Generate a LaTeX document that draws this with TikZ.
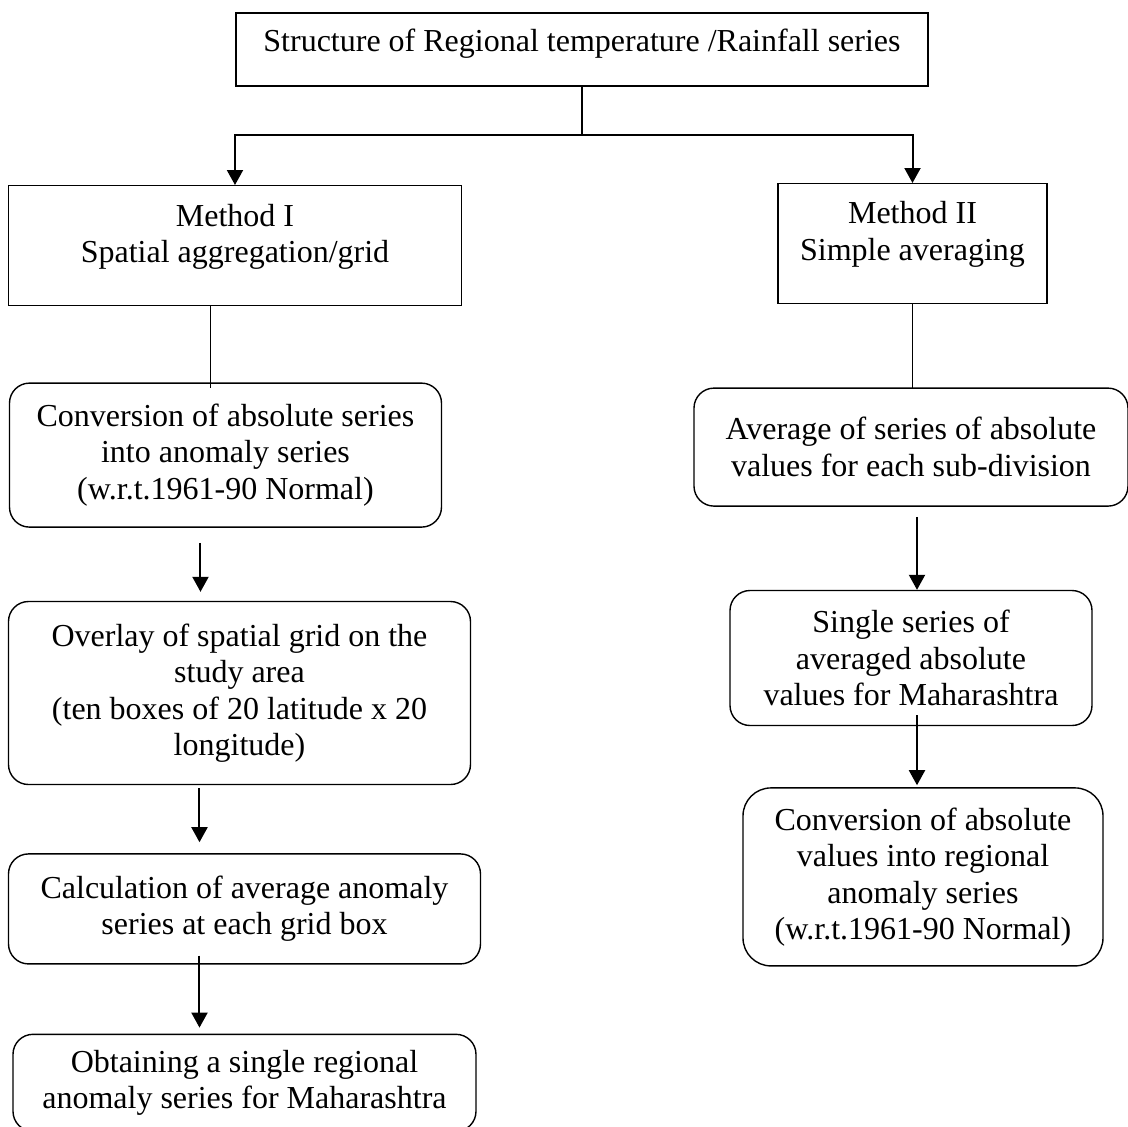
\documentclass[tikz,border=0pt]{standalone}
\usepackage{fontspec}
\setmainfont{Liberation Serif}
\usetikzlibrary{arrows.meta,positioning,calc}

\begin{document}
\begin{tikzpicture}[
  sqbox/.style={draw,line width=0.7pt,align=center,inner sep=0pt,
                font=\fontsize{16}{18.25}\selectfont},
  rbox/.style={sqbox,rounded corners=10pt},
  arr/.style={-{Triangle[width=8pt,length=7.5pt]},line width=1pt},
  link/.style={line width=0.6pt}]
\path[use as bounding box] (-291pt,24.75pt) rectangle (273pt,-538.25pt);
\node[sqbox,line width=1pt,minimum width=346pt,minimum height=36.5pt] (top)
  {Structure of Regional temperature /Rainfall series\\[-8.75pt]\mbox{}};
\coordinate[below=24pt of top] (split);
\node[sqbox,below=49pt of top.south west,minimum width=226.5pt,minimum height=60pt] (m1)
  {Method I\\Spatial aggregation/grid\\[-6pt]\mbox{}};
\node[sqbox,below=48pt of top.south east,xshift=-8.25pt,minimum width=134.5pt,minimum height=60pt] (m2)
  {Method II\\Simple averaging\\[-5.5pt]\mbox{}};
% method I column
\node[rbox,below=38pt of m1,xshift=-4.75pt,minimum width=216pt,minimum height=72pt] (conv)
  {Conversion of absolute series\\into anomaly series\\(w.r.t.1961-90 Normal)};
\node[rbox,below=36.5pt of conv,xshift=7pt,minimum width=231pt,minimum height=91.5pt] (grid)
  {Overlay of spatial grid on the\\study area\\(ten boxes of 20 latitude x 20\\longitude)};
\node[rbox,below=34pt of grid,xshift=2.5pt,minimum width=236pt,minimum height=55pt] (calc)
  {Calculation of average anomaly\\series at each grid box};
\node[rbox,below=34.5pt of calc,minimum width=231.5pt,minimum height=48.5pt] (obt)
  {Obtaining a single regional\\anomaly series for Maharashtra};
% method II column
\node[rbox,below=41.5pt of m2,xshift=-0.75pt,minimum width=217pt,minimum height=59pt] (avg)
  {Average of series of absolute\\values for each sub-division};
\node[rbox,below=41.5pt of avg,minimum width=181pt,minimum height=67.5pt] (single)
  {Single series of\\averaged absolute\\values for Maharashtra};
\node[rbox,rounded corners=14pt,below=30.5pt of single,xshift=6pt,minimum width=180pt,minimum height=89pt] (conv2)
  {Conversion of absolute\\values into regional\\anomaly series\\(w.r.t.1961-90 Normal)};
% connectors
\draw[line width=1pt] (top) -- (split);
\draw[arr] (split) -| (m1);
\draw[arr] (split) -| (m2);
\draw[link] ($(m1.south)+(-12.25pt,0)$) -- ($(m1.south |- conv.north)+(-12.25pt,-3pt)$);
\draw[arr] ($(conv.south)+(-12.5pt,-7.5pt)$) -- ($(conv.south |- grid.north)+(-12.5pt,4.5pt)$);
\draw[arr] ($(grid.south)+(-20pt,-1.5pt)$) -- ($(grid.south |- calc.north)+(-20pt,5.5pt)$);
\draw[arr] ($(calc.south)+(-22.5pt,4.5pt)$) -- ($(calc.south |- obt.north)+(-22.5pt,3pt)$);
\draw[link] (m2.south) -- ($(m2.south |- avg.north)+(0,-0.5pt)$);
\draw[arr] ($(avg.south)+(3pt,-5pt)$) -- ($(avg.south |- single.north)+(3pt,0)$);
\draw[arr] ($(single.south)+(3pt,5.5pt)$) -- ($(single.south |- conv2.north)+(3pt,1pt)$);
\end{tikzpicture}
\end{document}
